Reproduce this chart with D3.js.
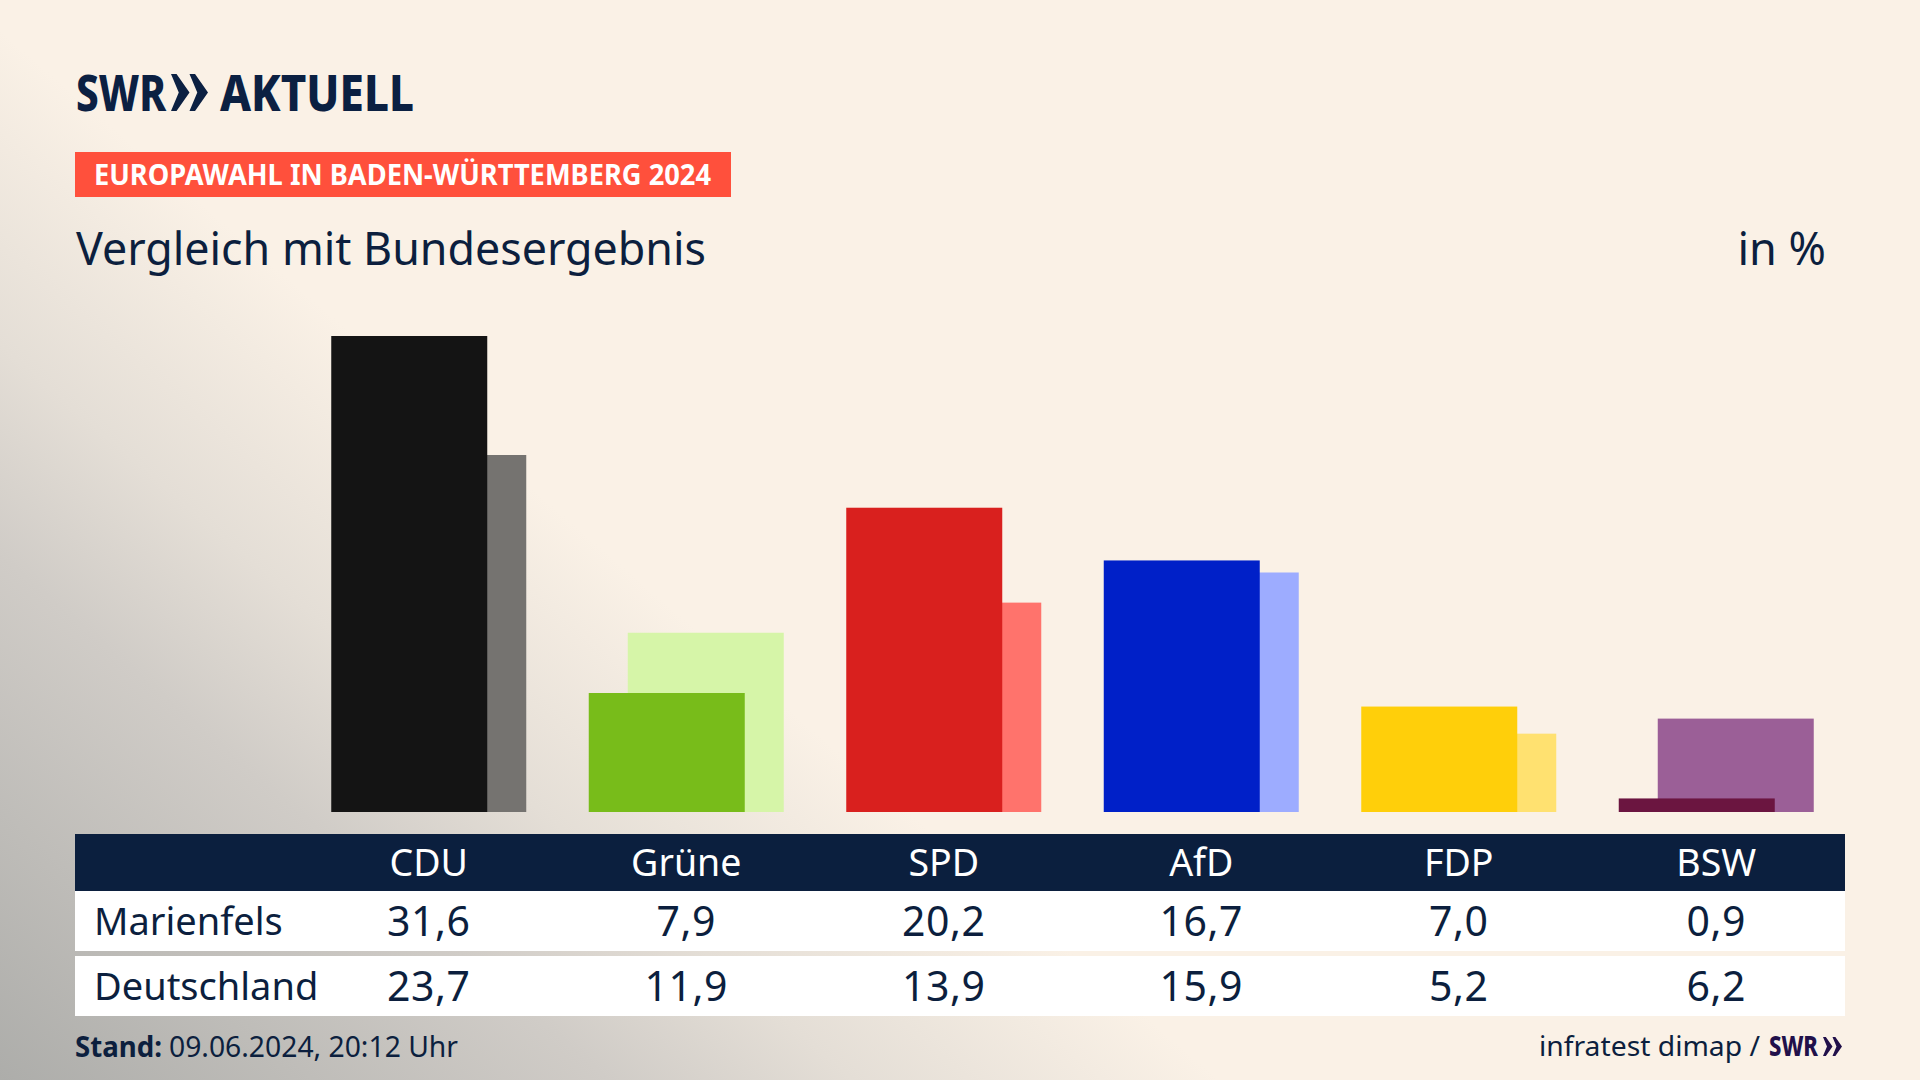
<!DOCTYPE html>
<html lang="de">
<head>
<meta charset="UTF-8">
<script src="https://d3js.org/d3.v7.min.js"></script>
<title>Europawahl Vergleich</title>
<style>
html, body { margin: 0; padding: 0; background: #faf1e6; overflow: hidden; }
svg { display: block; }
text { font-family: "Noto Sans", sans-serif; fill: #0c1f3e; }
</style>
</head>
<body>
<svg width="1920" height="1080"></svg>
<script>
const parties = ["CDU", "Grüne", "SPD", "AfD", "FDP", "BSW"]
const marienfels = [31.6, 7.9, 20.2, 16.7, 7.0, 0.9]
const deutschland = [23.7, 11.9, 13.9, 15.9, 5.2, 6.2]
const frontColors = ["#141414", "#78bc1a", "#d9201e", "#0020c8", "#ffcf0a", "#6b1540"]
const backColors = ["#757370", "#d6f5a8", "#ff736c", "#9dacff", "#ffe170", "#9b5f97"]

const svg = d3.select("svg")
const fmt = v => v.toFixed(1).replace(".", ",")

// background: cream, going grey towards the lower left corner
const defs = svg.append("defs")
const glow = defs.append("linearGradient").attr("id", "glow")
    .attr("gradientUnits", "userSpaceOnUse")
    .attr("x1", 0).attr("y1", 1080).attr("x2", 519).attr("y2", 477)
glow.selectAll("stop")
    .data([[0, "#adadaa"], [0.5, "#d0ccc7"], [0.7, "#e4ded6"], [1, "#faf1e6"]])
    .enter().append("stop")
    .attr("offset", d => d[0]).attr("stop-color", d => d[1])
svg.append("rect").attr("width", 1920).attr("height", 1080).attr("fill", "url(#glow)")

// the two arrows of the SWR logo
const chevrons = (x, y, h, fill) => {
    const w = h * 0.5, gap = h * 0.5
    ;[0, gap].forEach(dx => {
        const left = x + dx, mid = y + h / 2
        svg.append("path")
            .attr("d", d3.line()([[left, y], [left + w * 0.3, y], [left + w, mid], [left + w * 0.3, y + h], [left, y + h], [left + w * 0.42, mid]]) + "Z")
            .attr("fill", fill)
    })
}

// header
svg.append("text").attr("x", 76).attr("y", 111)
    .attr("font-size", 50).attr("font-weight", 800).style("fill", "#0b2042")
    .attr("textLength", 90).attr("lengthAdjust", "spacingAndGlyphs").text("SWR")
chevrons(171, 74, 37, "#0b2042")
svg.append("text").attr("x", 220).attr("y", 111)
    .attr("font-size", 50).attr("font-weight", 800).style("fill", "#0b2042")
    .attr("textLength", 194).attr("lengthAdjust", "spacingAndGlyphs").text("AKTUELL")

svg.append("rect").attr("x", 75).attr("y", 152).attr("width", 656).attr("height", 45).attr("fill", "#ff503c")
svg.append("text").attr("x", 94).attr("y", 185)
    .attr("font-size", 29).attr("font-weight", 700).style("fill", "#fff")
    .attr("textLength", 617).attr("lengthAdjust", "spacingAndGlyphs")
    .text("EUROPAWAHL IN BADEN-WÜRTTEMBERG 2024")
svg.append("text").attr("x", 76).attr("y", 265).attr("font-size", 45)
    .attr("textLength", 630).attr("lengthAdjust", "spacingAndGlyphs").text("Vergleich mit Bundesergebnis")
svg.append("text").attr("x", 1826).attr("y", 265).attr("font-size", 45).attr("text-anchor", "end").text("in %")

// scales
const barW = 156, barOffset = 39
const groupPad = 1 - (barW + barOffset) / 257.5
const x = d3.scaleBand().domain(parties).range([300, 1845]).paddingInner(groupPad).paddingOuter(groupPad / 2)
const y = d3.scaleLinear().domain([0, 31.6]).range([812, 336])

// bars: Deutschland behind, Marienfels in front
svg.selectAll(".back").data(parties).enter().append("rect").attr("class", "back")
    .attr("x", d => x(d) + barOffset)
    .attr("y", (d, i) => y(deutschland[i]))
    .attr("width", barW)
    .attr("height", (d, i) => y(0) - y(deutschland[i]))
    .attr("fill", (d, i) => backColors[i])
svg.selectAll(".front").data(parties).enter().append("rect").attr("class", "front")
    .attr("x", d => x(d))
    .attr("y", (d, i) => y(marienfels[i]))
    .attr("width", barW)
    .attr("height", (d, i) => y(0) - y(marienfels[i]))
    .attr("fill", (d, i) => frontColors[i])

// table
const center = d => x(d) + x.bandwidth() / 2
svg.append("rect").attr("x", 75).attr("y", 834).attr("width", 1770).attr("height", 57).attr("fill", "#0b1f3e")
svg.append("rect").attr("x", 75).attr("y", 891).attr("width", 1770).attr("height", 60).attr("fill", "#fff")
svg.append("rect").attr("x", 75).attr("y", 956).attr("width", 1770).attr("height", 60).attr("fill", "#fff")

svg.selectAll(".head").data(parties).enter().append("text").attr("class", "head")
    .attr("x", center).attr("y", 876).attr("text-anchor", "middle")
    .attr("font-size", 37.5).style("fill", "#fff").text(d => d)

const rows = [["Marienfels", marienfels, 936], ["Deutschland", deutschland, 1001]]
rows.forEach(([name, vals, by]) => {
    svg.append("text").attr("x", 94).attr("y", by - 1).attr("font-size", 38).text(name)
    svg.selectAll(".v" + by).data(parties).enter().append("text").attr("class", "v" + by)
        .attr("x", center).attr("y", by).attr("text-anchor", "middle")
        .attr("font-size", 41).attr("letter-spacing", 0.5).text((d, i) => fmt(vals[i]))
})

// footer
svg.append("text").attr("x", 75).attr("y", 1057).attr("font-size", 29).attr("font-weight", 700)
    .attr("textLength", 87).attr("lengthAdjust", "spacingAndGlyphs").text("Stand:")
svg.append("text").attr("x", 169).attr("y", 1057).attr("font-size", 29)
    .attr("textLength", 289).attr("lengthAdjust", "spacingAndGlyphs").text("09.06.2024, 20:12 Uhr")
svg.append("text").attr("x", 1539).attr("y", 1056).attr("font-size", 28)
    .attr("textLength", 221).attr("lengthAdjust", "spacingAndGlyphs").text("infratest dimap /")
svg.append("text").attr("x", 1769).attr("y", 1056).attr("font-size", 28).attr("font-weight", 800)
    .style("fill", "#21104a").attr("textLength", 49).attr("lengthAdjust", "spacingAndGlyphs").text("SWR")
chevrons(1823, 1037, 19, "#21104a")
</script>
</body>
</html>
